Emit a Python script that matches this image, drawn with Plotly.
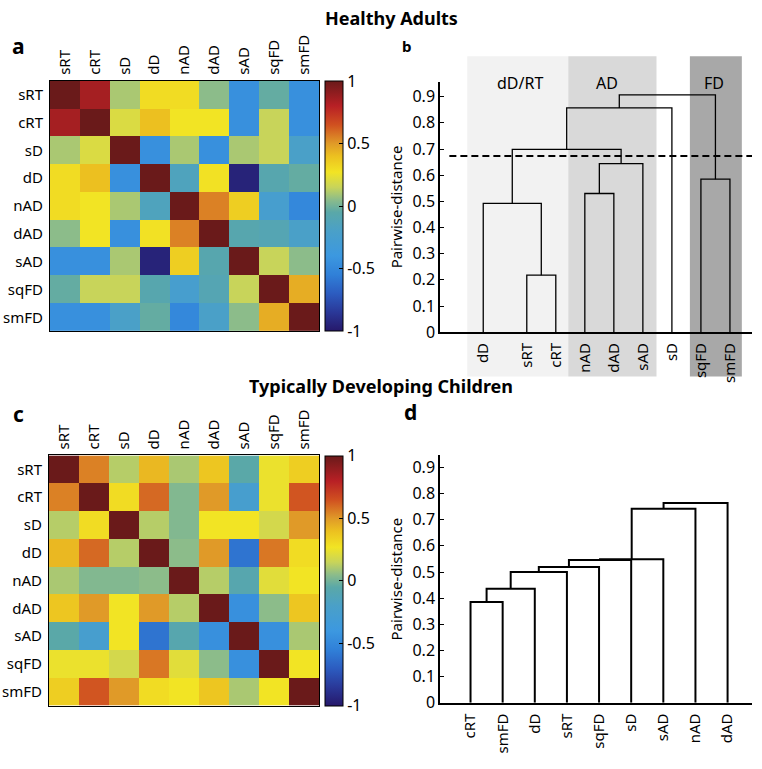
import plotly.graph_objects as go

W, H = 762, 769

# ---------------- data ----------------
labels = ["sRT", "cRT", "sD", "dD", "nAD", "dAD", "sAD", "sqFD", "smFD"]

corr_adults = [
    [1.00, 0.85, 0.10, 0.30, 0.30, 0.05, -0.45, -0.03, -0.45],
    [0.85, 1.00, 0.20, 0.40, 0.27, 0.27, -0.45, 0.15, -0.45],
    [0.10, 0.20, 1.00, -0.45, 0.10, -0.45, 0.10, 0.15, -0.20],
    [0.30, 0.40, -0.45, 1.00, -0.15, 0.28, -0.95, -0.08, -0.03],
    [0.30, 0.27, 0.10, -0.15, 1.00, 0.55, 0.35, -0.25, -0.50],
    [0.05, 0.27, -0.45, 0.28, 0.55, 1.00, -0.08, -0.10, -0.20],
    [-0.45, -0.45, 0.10, -0.95, 0.35, -0.08, 1.00, 0.15, 0.05],
    [-0.03, 0.15, 0.15, -0.08, -0.25, -0.10, 0.15, 1.00, 0.45],
    [-0.45, -0.45, -0.20, -0.03, -0.50, -0.20, 0.05, 0.45, 1.00],
]

corr_children = [
    [1.00, 0.55, 0.12, 0.42, 0.10, 0.38, -0.05, 0.25, 0.35],
    [0.55, 1.00, 0.30, 0.60, 0.03, 0.50, -0.25, 0.25, 0.64],
    [0.12, 0.30, 1.00, 0.12, 0.03, 0.27, 0.27, 0.18, 0.50],
    [0.42, 0.60, 0.12, 1.00, 0.05, 0.50, -0.60, 0.57, 0.30],
    [0.10, 0.03, 0.03, 0.05, 1.00, 0.12, -0.08, 0.22, 0.27],
    [0.38, 0.50, 0.27, 0.50, 0.12, 1.00, -0.45, 0.05, 0.38],
    [-0.05, -0.25, 0.27, -0.60, -0.08, -0.45, 1.00, -0.45, 0.10],
    [0.25, 0.25, 0.18, 0.57, 0.22, 0.05, -0.45, 1.00, 0.27],
    [0.35, 0.64, 0.50, 0.30, 0.27, 0.38, 0.10, 0.27, 1.00],
]

cbar_vals = [-1, -0.5, 0, 0.5, 1]
cbar_text = ["-1", "-0.5", "0", "0.5", "1"]

# dendrogram b (healthy adults)
leaves_b = ["dD", "sRT", "cRT", "nAD", "dAD", "sAD", "sD", "sqFD", "smFD"]
leaf_pos_b = [1.5, 3, 4, 5, 6, 7, 8, 9, 10]
merges_b = [(1, 2, 0.218), (0, 9, 0.492), (3, 4, 0.530), (11, 5, 0.644),
            (10, 12, 0.699), (13, 6, 0.857), (7, 8, 0.585), (14, 15, 0.907)]
threshold_b = 0.673
groups_b = ["dD/RT", "AD", "FD"]
group_x0 = [0.95, 4.43, 8.62]
group_x1 = [4.43, 7.47, 10.41]
group_label_x = [2.77, 5.76, 9.45]
group_colors = ["#f2f2f2", "#d9d9d9", "#a8a8a8"]

# dendrogram d (typically developing children)
leaves_d = ["cRT", "smFD", "dD", "sRT", "sqFD", "sD", "sAD", "nAD", "dAD"]
leaf_pos_d = [1, 2, 3, 4, 5, 6, 7, 8, 9]
merges_d = [(0, 1, 0.385), (9, 2, 0.436), (10, 3, 0.500), (11, 4, 0.519),
            (12, 5, 0.546), (13, 6, 0.549), (14, 7, 0.742), (15, 8, 0.764)]

dist_ticks = [0, 0.1, 0.2, 0.3, 0.4, 0.5, 0.6, 0.7, 0.8, 0.9]
dist_ticktext = ["0", "0.1", "0.2", "0.3", "0.4", "0.5", "0.6", "0.7", "0.8", "0.9"]

# ---------------- helpers ----------------
def px(x):
    return x / W


def py(y):
    return 1 - y / H


def dendro_xy(leaf_x, merges):
    pos = list(leaf_x)
    hgt = [0.0] * len(leaf_x)
    xs, ys = [], []
    for a, b, h in merges:
        xs += [pos[a], pos[a], pos[b], pos[b], None]
        ys += [hgt[a], h, h, hgt[b], None]
        pos.append((pos[a] + pos[b]) / 2)
        hgt.append(h)
    return xs, ys


colorscale = [
    [0.000, "#26186a"],
    [0.075, "#2a3898"],
    [0.150, "#2c5cc0"],
    [0.225, "#3080d8"],
    [0.300, "#3c98e0"],
    [0.400, "#4aa0c8"],
    [0.475, "#5aa8a8"],
    [0.525, "#8cbc8a"],
    [0.575, "#c8d45a"],
    [0.635, "#f2e424"],
    [0.700, "#ecc020"],
    [0.750, "#e09a28"],
    [0.825, "#d05020"],
    [0.900, "#b82025"],
    [1.000, "#6a1a1a"],
]

FONT = "Noto Sans, Open Sans, DejaVu Sans"

fig = go.Figure()


def add_heatmap(z, xa, ya, top, bottom):
    fig.add_trace(go.Heatmap(
        z=z, x=labels, y=labels, xaxis=xa, yaxis=ya,
        colorscale=colorscale, zmin=-1, zmax=1,
        colorbar=dict(
            x=px(325), xanchor="left", xpad=0, ypad=0,
            y=py(bottom), yanchor="bottom", len=py(top) - py(bottom),
            lenmode="fraction", thickness=18, thicknessmode="pixels",
            outlinecolor="black", outlinewidth=1,
            tickvals=cbar_vals, ticktext=cbar_text,
            ticks="inside", ticklen=4, tickcolor="black",
            tickfont=dict(size=16, family=FONT, color="black"),
        ),
    ))


add_heatmap(corr_adults, "x", "y", 82, 336)
add_heatmap(corr_children, "x3", "y3", 462, 716)

xb, yb = dendro_xy(leaf_pos_b, merges_b)
fig.add_trace(go.Scatter(x=xb, y=yb, mode="lines", xaxis="x2", yaxis="y2",
                         line=dict(color="black", width=1.3), showlegend=False,
                         hoverinfo="skip"))
xd, yd = dendro_xy(leaf_pos_d, merges_d)
fig.add_trace(go.Scatter(x=xd, y=yd, mode="lines", xaxis="x4", yaxis="y4",
                         line=dict(color="black", width=2), showlegend=False,
                         hoverinfo="skip"))

heat_x = dict(side="top", tickangle=-90, showline=True, mirror=True,
              linecolor="black", linewidth=1, ticks="",
              tickfont=dict(size=15, family=FONT, color="black"),
              showgrid=False, zeroline=False, ticklabelstandoff=2)
heat_y = dict(autorange="reversed", showline=True, mirror=True,
              linecolor="black", linewidth=1, ticks="",
              tickfont=dict(size=15, family=FONT, color="black"),
              showgrid=False, zeroline=False, ticklabelstandoff=3)

dend_y = dict(tickvals=dist_ticks, ticktext=dist_ticktext, showline=True,
              linecolor="black", linewidth=1.5, ticks="inside", ticklen=4,
              tickcolor="black", showgrid=False, zeroline=False,
              tickfont=dict(size=16, family=FONT, color="black"),
              title=dict(text="Pairwise-distance", standoff=6,
                         font=dict(size=15, family=FONT, color="black")))

fig.update_layout(
    width=W, height=H,
    margin=dict(l=0, r=0, t=0, b=0),
    paper_bgcolor="white", plot_bgcolor="rgba(0,0,0,0)",
    showlegend=False,
    font=dict(family=FONT, color="black"),
    xaxis=dict(domain=[px(50), px(319)], anchor="y", **heat_x),
    yaxis=dict(domain=[py(336), py(82)], anchor="x", **heat_y),
    xaxis3=dict(domain=[px(49), px(319)], anchor="y3", **heat_x),
    yaxis3=dict(domain=[py(716), py(462)], anchor="x3", **heat_y),
    xaxis2=dict(domain=[px(440), px(752)], anchor="y2", range=[0.01, 10.76],
                tickvals=leaf_pos_b, ticktext=leaves_b, tickangle=-90,
                showline=True, linecolor="black", linewidth=1.5, ticks="",
                showgrid=False, zeroline=False, ticklabelstandoff=3,
                tickfont=dict(size=15, family=FONT, color="black")),
    yaxis2=dict(domain=[py(337), py(83)], anchor="x2", range=[0, 0.957], **dend_y),
    xaxis4=dict(domain=[px(440), px(752)], anchor="y4", range=[0.05, 9.76],
                tickvals=leaf_pos_d, ticktext=leaves_d, tickangle=-90,
                showline=True, linecolor="black", linewidth=1.5, ticks="",
                showgrid=False, zeroline=False, ticklabelstandoff=3,
                tickfont=dict(size=15, family=FONT, color="black")),
    yaxis4=dict(domain=[py(713), py(462)], anchor="x4", range=[0, 0.946], **dend_y),
)

# group shading for panel b
for name, x0, x1, lx, col in zip(groups_b, group_x0, group_x1, group_label_x, group_colors):
    fig.add_shape(type="rect", xref="x2", yref="paper", x0=x0, x1=x1,
                  y0=py(382), y1=py(57), fillcolor=col, line=dict(width=0),
                  layer="below")
    fig.add_annotation(text=name, x=lx, xref="x2", y=py(71), yref="paper",
                       showarrow=False, font=dict(size=16, family=FONT, color="black"))

# threshold line
fig.add_shape(type="line", xref="x2 domain", yref="y2", x0=0.03, x1=1,
              y0=threshold_b, y1=threshold_b,
              line=dict(color="black", width=2, dash="7px,4px"))

# titles and panel letters
texts = [
    ("<b>Healthy Adults</b>", 391, 18, 18),
    ("<b>Typically Developing Children</b>", 381, 392, 18),
    ("<b>a</b>", 18, 47, 21),
    ("<b>b</b>", 406, 47, 15),
    ("<b>c</b>", 18, 420, 21),
    ("<b>d</b>", 410, 418, 21),
]
for t, x, y, s in texts:
    fig.add_annotation(text=t, x=px(x), y=py(y), xref="paper", yref="paper",
                       showarrow=False, xanchor="center", yanchor="middle",
                       font=dict(size=s, family=FONT, color="black"))

fig.write_html("out.html", config={"displayModeBar": False},
               post_script="document.body.style.margin='0';document.body.style.padding='0';")
